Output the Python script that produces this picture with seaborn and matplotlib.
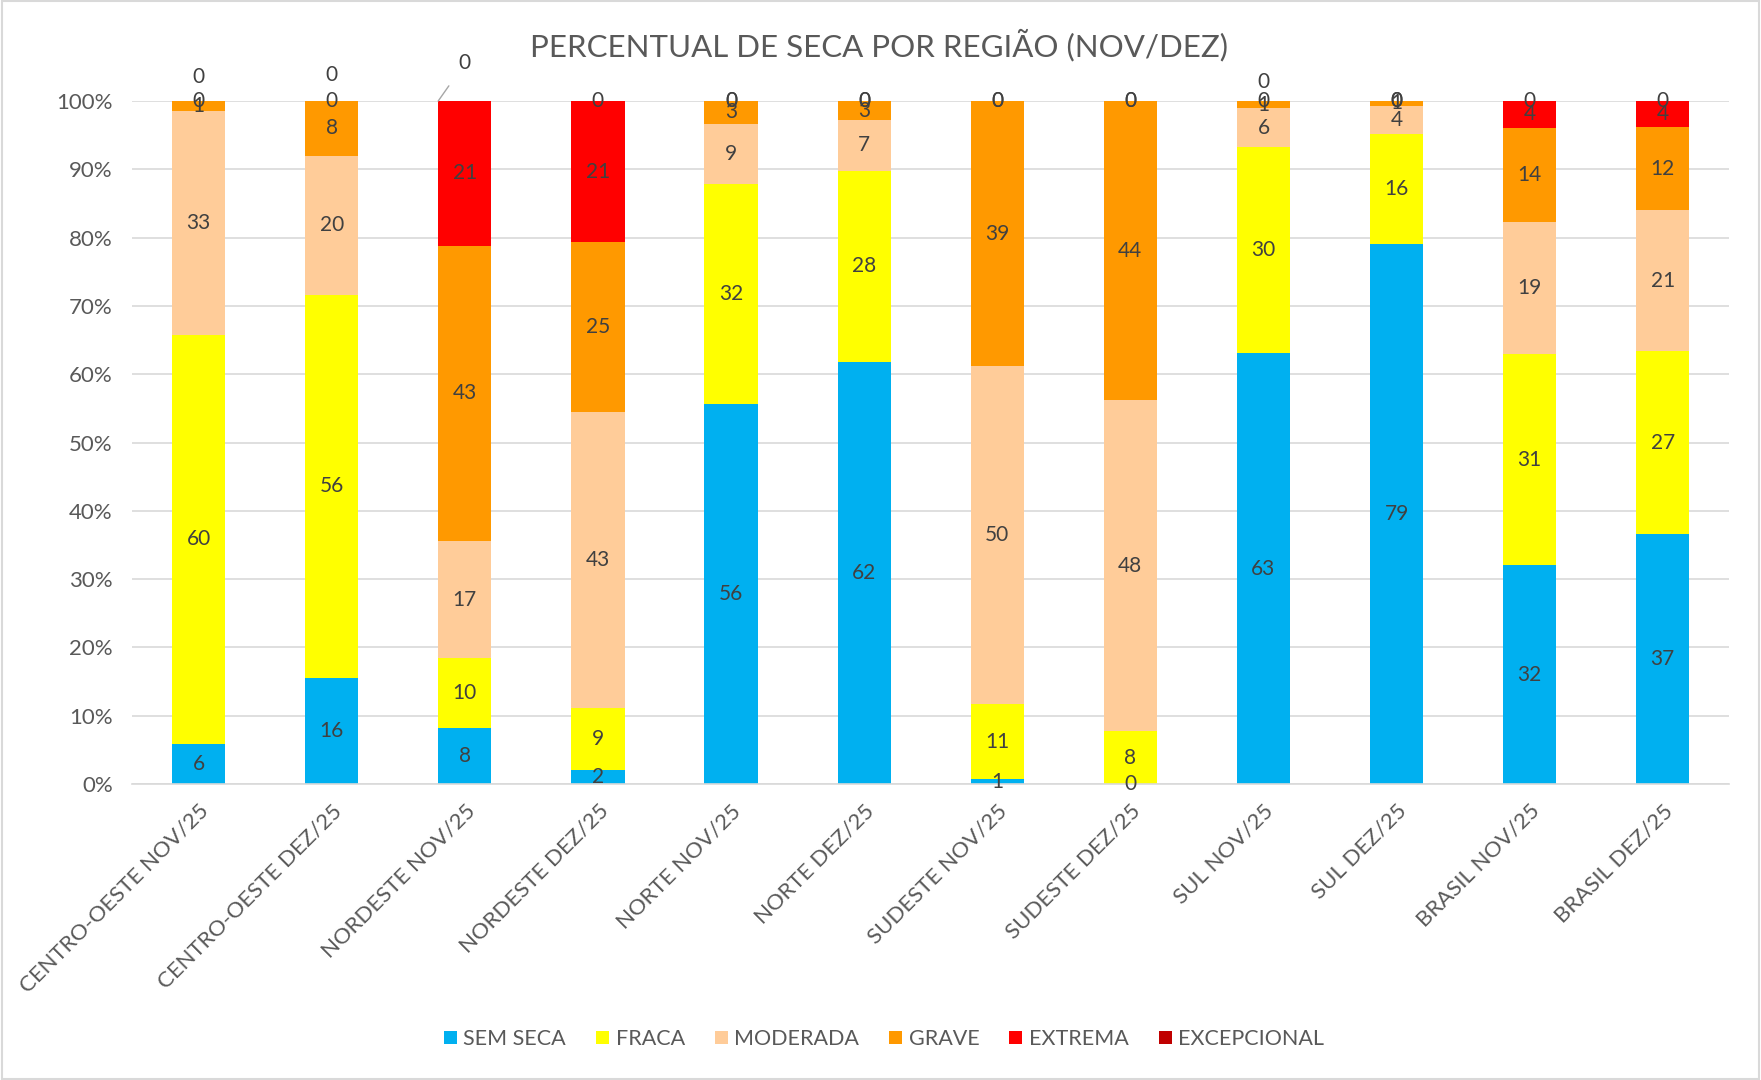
import matplotlib
matplotlib.use("Agg")
import matplotlib.pyplot as plt
from matplotlib.patches import Patch, Rectangle
import numpy as np
import pandas as pd
import seaborn as sns

CATEGORIES = ['CENTRO-OESTE NOV/25', 'CENTRO-OESTE DEZ/25', 'NORDESTE NOV/25', 'NORDESTE DEZ/25',
              'NORTE NOV/25', 'NORTE DEZ/25', 'SUDESTE NOV/25', 'SUDESTE DEZ/25',
              'SUL NOV/25', 'SUL DEZ/25', 'BRASIL NOV/25', 'BRASIL DEZ/25']
SEM_SECA = [5.9, 15.6, 8.2, 2.0, 55.6, 61.8, 0.7, 0.0, 63.1, 79.1, 32.0, 36.6]
FRACA = [59.9, 56.0, 10.2, 9.2, 32.2, 28.0, 11.0, 7.7, 30.2, 16.1, 30.9, 26.8]
MODERADA = [32.8, 20.4, 17.2, 43.2, 8.9, 7.4, 49.5, 48.5, 5.6, 4.1, 19.4, 20.6]
GRAVE = [1.4, 8.0, 43.2, 24.9, 3.3, 2.8, 38.8, 43.8, 1.1, 0.7, 13.8, 12.2]
EXTREMA = [0.0, 0.0, 21.2, 20.7, 0.0, 0.0, 0.0, 0.0, 0.0, 0.0, 3.9, 3.8]
EXCEPCIONAL = [0.0, 0.0, 0.0, 0.0, 0.0, 0.0, 0.0, 0.0, 0.0, 0.0, 0.0, 0.0]

SERIES = ['SEM SECA', 'FRACA', 'MODERADA', 'GRAVE', 'EXTREMA', 'EXCEPCIONAL']
COLORS = ['#00B0F0', '#FFFF00', '#FFCC99', '#FF9900', '#FF0000', '#C00000']

TEXT = '#404040'
GRAY = '#595959'
GRID = '#D9D9D9'

sns.set_theme(style='white')
plt.rcParams['font.family'] = ['Lato', 'DejaVu Sans']


def main():
    values = np.array([SEM_SECA, FRACA, MODERADA, GRAVE, EXTREMA, EXCEPCIONAL])
    cum = np.cumsum(values, axis=0)

    fig = plt.figure(figsize=(17.61, 10.8), dpi=100)
    fig.patches.append(Rectangle((0.001, 0.001), 0.998, 0.998, transform=fig.transFigure,
                                 fill=False, edgecolor=GRID, linewidth=1.5))
    ax = fig.add_axes([0.075, 0.274, 0.907, 0.6325])

    # stacked bars: draw cumulative heights from the top series down
    for i in range(len(SERIES) - 1, -1, -1):
        df = pd.DataFrame({'cat': CATEGORIES, 'val': cum[i]})
        sns.barplot(data=df, x='cat', y='val', color=COLORS[i], width=0.4,
                    saturation=1, ax=ax, zorder=2, linewidth=0)

    # data labels
    exc_offset = {0: (0, 17), 1: (0, 19), 2: (19, 27), 8: (0, 14)}
    for j in range(len(CATEGORIES)):
        for i in range(len(SERIES)):
            mid = cum[i, j] - values[i, j] / 2
            label = '%d' % round(values[i, j])
            if i == 5 and j in exc_offset:
                dx, dy = exc_offset[j]
                if j == 2:
                    ax.annotate(label, xy=(j - 0.2, cum[i, j]), xytext=(dx, dy),
                                textcoords='offset points', ha='center', va='center',
                                fontsize=15, color=TEXT,
                                arrowprops=dict(arrowstyle='-', color='#A6A6A6', lw=1,
                                                shrinkA=8, shrinkB=0),
                                annotation_clip=False)
                else:
                    ax.annotate(label, xy=(j, cum[i, j]), xytext=(dx, dy),
                                textcoords='offset points', ha='center', va='center',
                                fontsize=15, color=TEXT, annotation_clip=False)
            else:
                ax.text(j, mid, label, ha='center', va='center', fontsize=15,
                        color=TEXT, zorder=5, clip_on=False)

    ax.set_ylim(0, 100)
    ax.set_xlim(-0.5, len(CATEGORIES) - 0.5)
    ax.set_yticks(range(0, 101, 10))
    ax.set_yticklabels(['%d%%' % t for t in range(0, 101, 10)])
    ax.yaxis.grid(True, color=GRID, linewidth=1.2, zorder=0)
    ax.set_axisbelow(True)
    for side in ['left', 'right', 'top']:
        ax.spines[side].set_visible(False)
    ax.spines['bottom'].set_color(GRID)
    ax.spines['bottom'].set_linewidth(1.2)
    ax.tick_params(axis='both', length=0, labelsize=16, colors=GRAY)
    ax.tick_params(axis='y', pad=14)
    ax.set_xlabel('')
    ax.set_ylabel('')
    plt.setp(ax.get_xticklabels(), rotation=45, ha='right', va='top', rotation_mode='anchor')
    ax.tick_params(axis='x', pad=12)

    fig.text(0.499, 0.958, 'PERCENTUAL DE SECA POR REGIÃO (NOV/DEZ)', ha='center',
             va='center', fontsize=22.5, color=GRAY)

    handles = [Patch(facecolor=c, edgecolor='none') for c in COLORS]
    fig.legend(handles, SERIES, loc='center', bbox_to_anchor=(0.502, 0.038), ncol=6,
               frameon=False, fontsize=15.5, handlelength=0.6, handleheight=0.6,
               handletextpad=0.3, columnspacing=1.4, labelcolor=GRAY)

    fig.savefig('out.png', dpi=100)


if __name__ == "__main__":
    main()
